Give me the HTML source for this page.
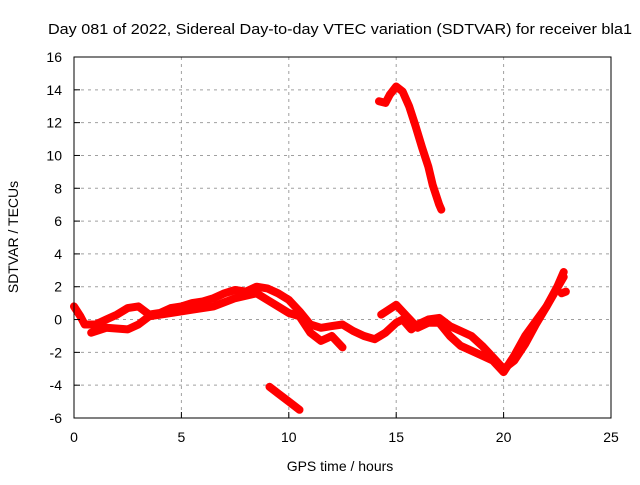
<!DOCTYPE html>
<html><head><meta charset="utf-8"><style>
body{margin:0;background:#fff}
svg text{font-family:"Liberation Sans",sans-serif;font-size:14px;fill:#000}
</style></head><body>
<svg id="chart" width="640" height="480" xmlns="http://www.w3.org/2000/svg">
<rect width="640" height="480" fill="#fff"/>
<g id="grid"></g>
<g id="series"></g>
<rect x="74" y="57" width="537" height="361" fill="none" stroke="#000" stroke-width="1"/>
<g id="ticks"></g>
<text x="340" y="34" text-anchor="middle" textLength="584" lengthAdjust="spacingAndGlyphs" style="font-size:15px">Day 081 of 2022, Sidereal Day-to-day VTEC variation (SDTVAR) for receiver bla1</text>
<text x="340" y="471" text-anchor="middle">GPS time / hours</text>
<text transform="translate(18,237) rotate(-90)" text-anchor="middle">SDTVAR / TECUs</text>
</svg>
<script>
const xTicks=[0,5,10,15,20,25];
const yTicks=[-6,-4,-2,0,2,4,6,8,10,12,14,16];
const mainX=[0,0.3,0.5,1,1.5,2,2.5,3,3.5,4,4.5,5,5.5,6,6.5,7,7.5,8,8.5,9,9.5,10,10.5,11,11.5,12,12.5,13,13.5,14,14.5,15,15.3,15.7,16,16.5,17,17.5,18,18.5,19,19.5,20,20.5,21,21.5,22,22.5,22.8];
const mainY=[0.8,0.2,-0.3,-0.3,0,0.3,0.7,0.8,0.3,0.4,0.7,0.8,1.0,1.1,1.3,1.6,1.8,1.7,2.0,1.9,1.6,1.2,0.5,-0.3,-0.5,-0.4,-0.3,-0.7,-1.0,-1.2,-0.8,-0.2,0,-0.6,-0.3,0,0.1,-0.4,-0.7,-1.0,-1.6,-2.3,-3.0,-2.5,-1.5,-0.3,0.8,2.0,2.9];
const lowAX=[0.8,1.5,2.5,3,3.5,4.5,5.5,6.5,7.5,8.5,9,9.5,10,10.5,11,11.5,12,12.5];
const lowAY=[-0.8,-0.5,-0.6,-0.3,0.2,0.4,0.6,0.8,1.3,1.6,1.2,0.8,0.4,0.2,-0.8,-1.3,-1.0,-1.7];
const lowBX=[14.3,15,15.5,16,16.5,17,17.5,18,18.5,19,19.5,20,20.5,21,22,22.8];
const lowBY=[0.3,0.9,0.2,-0.5,-0.2,-0.2,-1.0,-1.6,-1.9,-2.2,-2.5,-3.2,-2.2,-1.0,0.8,2.6];
const dropX=[9.1,9.5,10,10.5];
const dropY=[-4.1,-4.5,-5.0,-5.5];
const highX=[14.2,14.5,14.7,15,15.3,15.6,15.9,16.2,16.5,16.7,17,17.1];
const highY=[13.3,13.2,13.7,14.2,13.9,13.0,11.8,10.5,9.3,8.2,7.0,6.7];
const spotX=[22.7,22.9];
const spotY=[1.6,1.7];
const NS="http://www.w3.org/2000/svg";
const sx=v=>74+v*537/25;
const sy=v=>418-(v+6)*361/22;
const grid=document.getElementById('grid'),ticks=document.getElementById('ticks'),ser=document.getElementById('series');
function mk(t,a,p){const e=document.createElementNS(NS,t);for(const k in a)e.setAttribute(k,a[k]);p.appendChild(e);return e;}
xTicks.forEach(v=>{
 if(v>0&&v<25){const g=mk('line',{x1:sx(v),x2:sx(v),y1:57,y2:418,stroke:'#a0a0a0','stroke-dasharray':'3,4'},grid);
 
 }
 const t=mk('line',{x1:sx(v),x2:sx(v),y1:418,y2:412,stroke:'#000'},ticks);
 
 
 const l=mk('text',{x:sx(v),y:442,'text-anchor':'middle'},ticks);l.textContent=v;
 
 
});
yTicks.forEach(v=>{
 if(v>-6&&v<16){const g=mk('line',{x1:74,x2:611,y1:sy(v),y2:sy(v),stroke:'#a0a0a0','stroke-dasharray':'3,4'},grid);
 
 }
 const t=mk('line',{x1:74,x2:80,y1:sy(v),y2:sy(v),stroke:'#000'},ticks);
 
 
 const l=mk('text',{x:62,y:sy(v)+5,'text-anchor':'end'},ticks);l.textContent=v;
 
 
});
function line(xs,ys,name){
 const p=xs.map((x,i)=>sx(x).toFixed(1)+','+sy(ys[i]).toFixed(1)).join(' ');
 const e=mk('polyline',{points:p,fill:'none',stroke:'#ff0000','stroke-width':8,'stroke-linejoin':'round','stroke-linecap':'round'},ser);
 
 
}
line(mainX,mainY,'sdtvar-main-track');
line(lowAX,lowAY,'sdtvar-lower-track-a');
line(lowBX,lowBY,'sdtvar-lower-track-b');
line(dropX,dropY,'sdtvar-negative-segment');
line(highX,highY,'sdtvar-high-segment');
line(spotX,spotY,'sdtvar-spot');
</script>
</body></html>
